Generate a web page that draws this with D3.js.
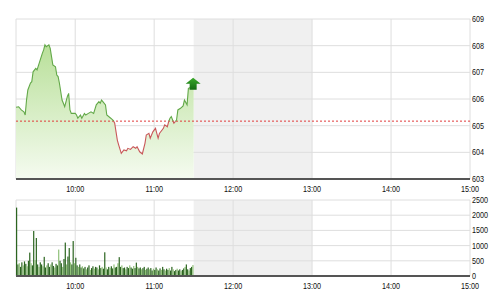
<!DOCTYPE html>
<html>
<head>
<meta charset="utf-8">
<script src="https://cdn.jsdelivr.net/npm/d3@7"></script>
<style>
  body { margin: 0; background: #fff; }
  text { font-family: "Liberation Sans", Arial, sans-serif; font-size: 8.5px; fill: #111; }
</style>
</head>
<body>
<svg id="chart" width="501" height="300"></svg>
<script>
// price (intraday index) samples
var priceTimes = ["09:15","09:17","09:19","09:21","09:22","09:23","09:24","09:26","09:27","09:28",
    "09:30","09:31","09:33","09:35","09:36","09:37","09:38","09:40","09:41","09:42",
    "09:43","09:45","09:46","09:47","09:48","09:50","09:51","09:52","09:54","09:55",
    "09:56","09:57","10:00","10:01","10:02","10:04","10:05","10:07","10:08","10:10",
    "10:12","10:14","10:16","10:18","10:19","10:20","10:21","10:23","10:24","10:27",
    "10:29","10:30","10:32","10:33","10:35","10:37","10:39","10:40","10:42","10:44",
    "10:46","10:47","10:49","10:51","10:53","10:54","10:56","10:57","10:59","11:01",
    "11:02","11:03","11:04","11:07","11:08","11:10","11:11","11:12","11:13","11:15",
    "11:16","11:17","11:18","11:20","11:22","11:23","11:25","11:26","11:29","11:30"];
var priceValues = [605.69,605.71,605.59,605.52,605.40,605.96,606.34,606.60,606.65,607.02,
    607.15,607.09,607.40,607.71,607.84,608.03,607.96,608.03,607.90,607.59,
    607.28,607.21,606.90,606.84,606.59,605.96,605.84,605.71,606.09,606.21,
    605.59,605.46,605.46,605.40,605.28,605.40,605.28,605.46,605.40,605.46,
    605.52,605.46,605.78,605.90,605.84,605.96,605.90,605.78,605.40,605.28,
    605.19,605.09,604.46,604.28,603.96,604.09,604.06,604.15,604.11,604.21,
    604.15,604.21,604.02,603.94,604.34,604.65,604.71,604.53,604.77,604.90,
    604.71,604.53,604.71,604.90,605.03,604.96,605.15,605.28,605.34,605.09,
    605.15,605.21,605.59,605.65,605.74,605.96,605.78,606.40,606.46,606.46];
var refPrice = 605.17;

// volume per minute from 09:15
var volStart = "09:15";
var volumes = [2250,380,420,300,450,350,480,400,320,500,
    770,420,350,1480,520,1250,380,300,450,380,
    320,630,280,350,420,300,380,450,330,280,
    400,350,870,500,420,300,560,1100,380,640,
    920,450,380,1150,420,600,350,300,380,280,
    320,250,300,220,280,350,200,260,320,240,
    300,280,220,350,260,300,240,780,280,220,
    300,260,320,250,380,280,300,420,620,300,
    350,260,280,220,300,260,350,280,240,330,
    260,440,300,250,280,220,260,300,200,240,
    280,220,260,180,240,200,280,220,180,250,
    200,300,220,180,240,200,260,180,300,220,
    160,200,240,180,220,160,200,250,300,380,
    220,180,260,300,360];

var priceTicks = [603, 604, 605, 606, 607, 608, 609];
var volTicks = [0, 500, 1000, 1500, 2000, 2500];
var timeTicks = ["10:00", "11:00", "12:00", "13:00", "14:00", "15:00"];
var breakStart = "11:30", breakEnd = "13:00";
var dayStart = "09:15", dayEnd = "15:00";

var parse = d3.timeParse("%H:%M");
var svg = d3.select("#chart");

var left = 16, right = 470;
var x = d3.scaleTime().domain([parse(dayStart), parse(dayEnd)]).range([left, right]);
var y = d3.scaleLinear().domain([603, 609]).range([179, 19]);
var yv = d3.scaleLinear().domain([0, 2500]).range([276, 200]);

var prices = priceTimes.map((t, i) => ({ t: parse(t), v: priceValues[i] }));

// gradient for the area
var defs = svg.append("defs");
var grad = defs.append("linearGradient")
    .attr("id", "areaGrad")
    .attr("gradientUnits", "userSpaceOnUse")
    .attr("x1", 0).attr("x2", 0)
    .attr("y1", y(608)).attr("y2", y(603));
grad.append("stop").attr("offset", 0).attr("stop-color", "#b9e09a");
grad.append("stop").attr("offset", 1).attr("stop-color", "#f5fbf0");

defs.append("clipPath").attr("id", "above")
    .append("rect").attr("x", left).attr("y", 0)
    .attr("width", right - left).attr("height", y(refPrice));
defs.append("clipPath").attr("id", "below")
    .append("rect").attr("x", left).attr("y", y(refPrice))
    .attr("width", right - left).attr("height", 300);

function panel(yScale, ticks, top, bottom) {
    var g = svg.append("g");
    // lunch break shading
    g.append("rect")
        .attr("x", x(parse(breakStart)))
        .attr("y", top)
        .attr("width", x(parse(breakEnd)) - x(parse(breakStart)))
        .attr("height", bottom - top)
        .attr("fill", "#f0f0f0");

    // horizontal grid
    g.selectAll(".hg").data(ticks).enter().append("line")
        .attr("x1", left).attr("x2", right)
        .attr("y1", d => yScale(d)).attr("y2", d => yScale(d))
        .attr("stroke", "#dedede");

    // vertical grid
    g.selectAll(".vg").data(timeTicks).enter().append("line")
        .attr("x1", d => x(parse(d))).attr("x2", d => x(parse(d)))
        .attr("y1", top).attr("y2", bottom)
        .attr("stroke", "#dedede");

    g.append("line")
        .attr("x1", left).attr("x2", left)
        .attr("y1", top).attr("y2", bottom)
        .attr("stroke", "#dedede");

    // right labels
    g.selectAll(".yl").data(ticks).enter().append("text")
        .attr("transform", d => `translate(472, ${yScale(d) + 3}) scale(0.85, 1)`)
        .text(d => d);

    // bottom time labels
    g.selectAll(".xl").data(timeTicks).enter().append("text")
        .attr("transform", d => `translate(${x(parse(d))}, ${bottom + 13}) scale(0.85, 1)`)
        .attr("text-anchor", "middle")
        .text(d => d);
    return g;
}

var topG = panel(y, priceTicks, 19, 179);
var botG = panel(yv, volTicks, 200, 276);

// area under price
var area = d3.area().x(d => x(d.t)).y0(y(603)).y1(d => y(d.v));
topG.append("path").datum(prices)
    .attr("d", area)
    .attr("fill", "url(#areaGrad)");

// reference line
topG.append("line")
    .attr("x1", left).attr("x2", right)
    .attr("y1", y(refPrice)).attr("y2", y(refPrice))
    .attr("stroke", "#e03a3a")
    .attr("stroke-dasharray", "2,2");

// price line, green above reference and red below
var line = d3.line().x(d => x(d.t)).y(d => y(d.v));
topG.append("path").datum(prices)
    .attr("d", line)
    .attr("fill", "none")
    .attr("stroke", "#62a848")
    .attr("stroke-width", 1.1)
    .attr("clip-path", "url(#above)");
topG.append("path").datum(prices)
    .attr("d", line)
    .attr("fill", "none")
    .attr("stroke", "#c9585a")
    .attr("stroke-width", 1.1)
    .attr("clip-path", "url(#below)");

// up arrow at last point
var last = prices[prices.length - 1];
var ag = defs.append("linearGradient").attr("id", "arrowGrad")
    .attr("x1", 0).attr("x2", 0).attr("y1", 0).attr("y2", 1);
ag.append("stop").attr("offset", 0).attr("stop-color", "#3caa2c");
ag.append("stop").attr("offset", 1).attr("stop-color", "#136b12");
topG.append("polygon")
    .attr("transform", `translate(${x(last.t) - 0.5}, ${y(last.v)})`)
    .attr("points", "0,-9 7.5,-3 3.5,-3 3.5,3 -3.5,3 -3.5,-3 -7.5,-3")
    .attr("fill", "url(#arrowGrad)");

// axis base lines
topG.append("line")
    .attr("x1", left).attr("x2", right)
    .attr("y1", 179).attr("y2", 179)
    .attr("stroke", "#555").attr("stroke-width", 2);

// volume bars
var vs = parse(volStart);
botG.selectAll(".bar").data(volumes).enter().append("rect")
    .attr("x", (d, i) => x(d3.timeMinute.offset(vs, i)))
    .attr("y", d => yv(d))
    .attr("width", 1.2)
    .attr("height", d => yv(0) - yv(d))
    .attr("fill", (d, i) => i % 3 === 2 ? "#8fc078" : "#2c6520");

botG.append("line")
    .attr("x1", left).attr("x2", right)
    .attr("y1", 276).attr("y2", 276)
    .attr("stroke", "#555").attr("stroke-width", 2);
</script>
</body>
</html>
